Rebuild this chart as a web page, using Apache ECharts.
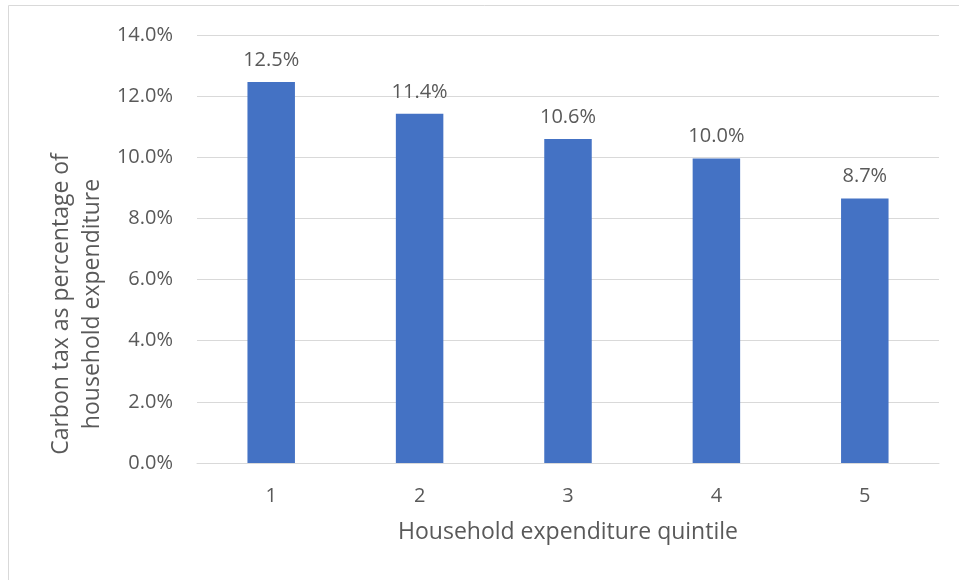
<!DOCTYPE html>
<html><head><meta charset="utf-8">
<script src="https://cdn.jsdelivr.net/npm/echarts@6/dist/echarts.min.js"></script>
<style>html,body{margin:0;padding:0;background:#fff}#c{width:959px;height:580px}</style>
</head><body><div id="c"></div>
<script>
const categories = ['1', '2', '3', '4', '5'];
const values = [12.46, 11.42, 10.6, 9.96, 8.65];
const yTicks = [0, 2, 4, 6, 8, 10, 12, 14];
const xTitle = 'Household expenditure quintile';
const yTitle = ['Carbon tax as percentage of', 'household expenditure'];

const FONT = '"Open Sans", "Liberation Sans", sans-serif';
const TXT = '#595959';
const chart = echarts.init(document.getElementById('c'));
chart.setOption({
  animation: false,
  graphic: [
    { type: 'rect', shape: { x: 8.5, y: 5.5, width: 1200, height: 1200 }, style: { fill: 'none', stroke: '#D9D9D9', lineWidth: 1 }, silent: true },
    { type: 'text', x: 77, y: 304, rotation: Math.PI / 2,
      style: { text: yTitle.join('\n'), fill: TXT, font: '23px ' + FONT, textAlign: 'center', textVerticalAlign: 'middle', lineHeight: 31 } }
  ],
  grid: { left: 197, right: 20, top: 35, bottom: 117 },
  xAxis: {
    type: 'category', data: categories,
    axisLine: { lineStyle: { color: '#D9D9D9', width: 1 } },
    axisTick: { show: false },
    axisLabel: { color: TXT, fontFamily: FONT, fontSize: 20, margin: 23 },
    name: xTitle, nameLocation: 'middle', nameGap: 58,
    nameTextStyle: { color: TXT, fontFamily: FONT, fontSize: 23 }
  },
  yAxis: {
    type: 'value', min: yTicks[0], max: yTicks[yTicks.length - 1], interval: 2,
    axisLine: { show: false }, axisTick: { show: false },
    splitLine: { lineStyle: { color: '#D9D9D9', width: 1 } },
    axisLabel: { color: TXT, fontFamily: FONT, fontSize: 20, margin: 24, formatter: v => v.toFixed(1) + '%' }
  },
  series: [{
    type: 'bar', data: values, barWidth: '32%',
    itemStyle: { color: '#4472C4' },
    label: { show: true, position: 'top', distance: 12, color: TXT, fontFamily: FONT, fontSize: 20,
      formatter: p => p.value.toFixed(1) + '%' }
  }]
});
</script></body></html>
